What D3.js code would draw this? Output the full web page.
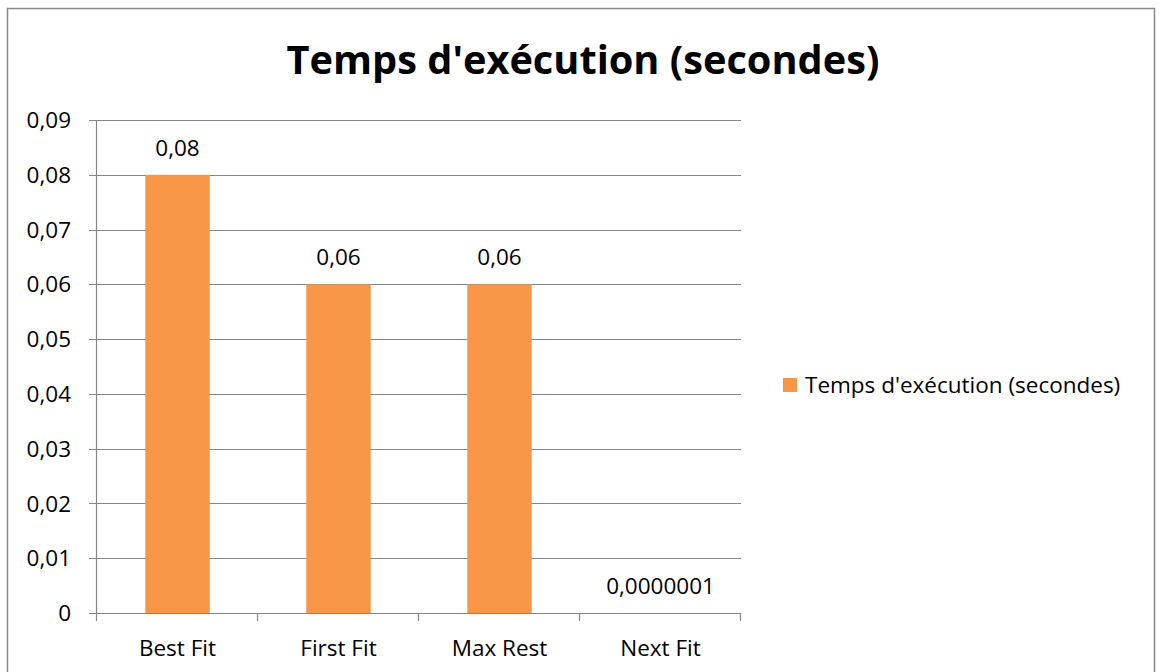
<!DOCTYPE html>
<html><head><meta charset="utf-8">
<script src="https://cdn.jsdelivr.net/npm/d3@7"></script>
<style>
html,body{margin:0;padding:0;background:#fff;}
svg text{font-family:"Open Sans",Lato,sans-serif;fill:#000;}
</style></head>
<body><svg id="c" width="1160" height="672"></svg>
<script>
const title = "Temps d'exécution (secondes)";
const seriesName = "Temps d'exécution (secondes)";
const categories = ["Best Fit","First Fit","Max Rest","Next Fit"];
const values = [0.08, 0.06, 0.06, 0.0000001];
const valueLabels = ["0,08","0,06","0,06","0,0000001"];
const yTicks = [0,0.01,0.02,0.03,0.04,0.05,0.06,0.07,0.08,0.09];

const svg = d3.select("#c");
svg.append("rect").attr("x",7.5).attr("y",8.5).attr("width",1147).attr("height",680)
  .attr("fill","#fff").attr("stroke","#868686").attr("stroke-width",1.5);

const m = {left:97, right:741, top:120, bottom:613};
const x = d3.scaleBand().domain(categories).range([m.left,m.right]).paddingInner(0.6).paddingOuter(0.3);
const xb = d3.scaleBand().domain(categories).range([m.left,m.right]);
const y = d3.scaleLinear().domain([0,0.09]).range([m.bottom,m.top]);
const fmt = v => v===0 ? "0" : d3.format(".2f")(v).replace(".",",");
const FS = 22.5;

// gridlines
svg.append("g").selectAll("line").data(yTicks).join("line")
  .attr("x1",m.left-8).attr("x2",m.right)
  .attr("y1",d=>Math.round(y(d))+0.5).attr("y2",d=>Math.round(y(d))+0.5)
  .attr("stroke","#868686").attr("stroke-width",1.2);
// y labels
svg.append("g").selectAll("text").data(yTicks).join("text")
  .attr("x",71).attr("y",d=>y(d)).attr("dy","0.36em").attr("text-anchor","end")
  .attr("font-size",FS).text(fmt);
// y axis line
svg.append("line").attr("x1",m.left-0.5).attr("x2",m.left-0.5).attr("y1",m.top).attr("y2",m.bottom)
  .attr("stroke","#868686").attr("stroke-width",1.2);
// x tick marks at category boundaries
const bounds = categories.map(c=>xb(c)).concat([m.right]);
svg.append("g").selectAll("line").data(bounds).join("line")
  .attr("x1",d=>Math.round(d)-0.5).attr("x2",d=>Math.round(d)-0.5)
  .attr("y1",m.bottom).attr("y2",m.bottom+8)
  .attr("stroke","#868686").attr("stroke-width",1.2);
// bars
svg.append("g").selectAll("rect").data(values).join("rect")
  .attr("x",(d,i)=>x(categories[i])).attr("width",x.bandwidth())
  .attr("y",d=>y(d)).attr("height",d=>y(0)-y(d)).attr("fill","#F79646");
// value labels
svg.append("g").selectAll("text").data(values).join("text")
  .attr("x",(d,i)=>x(categories[i])+x.bandwidth()/2).attr("y",d=>y(d)-27)
  .attr("dy","0.36em").attr("text-anchor","middle").attr("font-size",FS)
  .text((d,i)=>valueLabels[i]);
// category labels
svg.append("g").selectAll("text").data(categories).join("text")
  .attr("x",d=>xb(d)+xb.bandwidth()/2).attr("y",648).attr("dy","0.36em")
  .attr("text-anchor","middle").attr("font-size",FS).text(d=>d);
// title
const t = svg.append("text").attr("x",583).attr("y",60).attr("dy","0.36em").attr("text-anchor","middle")
  .attr("font-size",40).attr("font-weight","bold").text(title);
const tw = t.node().getComputedTextLength();
t.attr("font-size", 40*593/tw);
// legend
svg.append("rect").attr("x",783).attr("y",378).attr("width",14).attr("height",14).attr("fill","#F79646");
svg.append("text").attr("x",805).attr("y",385).attr("dy","0.36em").attr("font-size",FS).text(seriesName);
</script></body></html>
